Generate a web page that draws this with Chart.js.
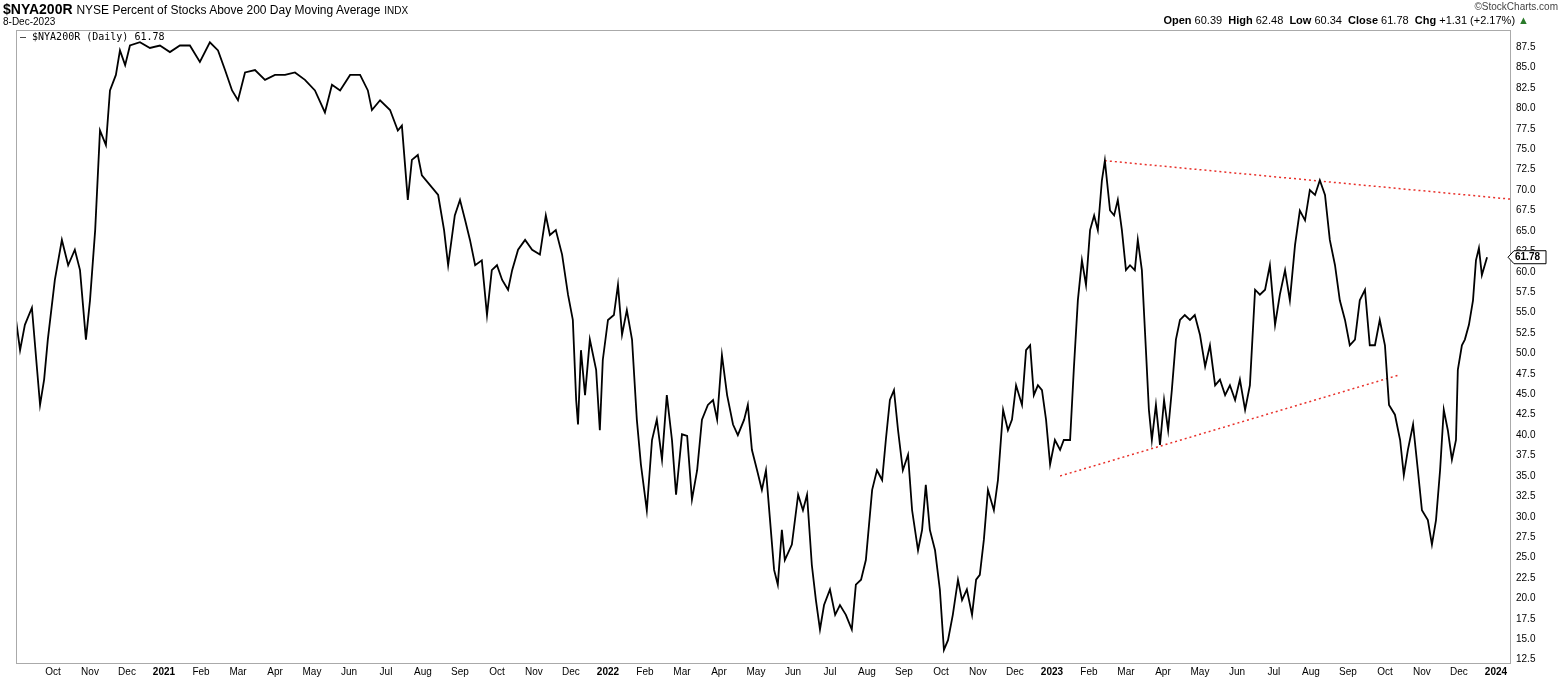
<!DOCTYPE html>
<html>
<head>
<meta charset="utf-8">
<script src="https://cdn.jsdelivr.net/npm/chart.js@4"></script>
<style>
  body { margin: 0; background: #fff; font-family: "Liberation Sans", Arial, sans-serif; }
  #wrap { position: relative; width: 1565px; height: 681px; }
  canvas { position: absolute; left: 0; top: 0; }
  .t { position: absolute; white-space: nowrap; color: #000; }
</style>
</head>
<body>
<div id="wrap">
  <canvas id="grafica" width="1565" height="681"></canvas>
  <div class="t" style="left:3px;top:1px;font-size:14px"><b>$NYA200R</b> <span style="font-size:12px">NYSE Percent of Stocks Above 200 Day Moving Average</span> <span style="font-size:10px">INDX</span></div>
  <div class="t" style="left:3px;top:16px;font-size:10px">8-Dec-2023</div>
  <div class="t" style="left:20px;top:31px;font-size:10px;font-family:'DejaVu Sans Mono',monospace">&#8212; $NYA200R (Daily) 61.78</div>
  <div class="t" style="right:7px;top:1px;font-size:10px;color:#444">&#169;StockCharts.com</div>
  <div class="t" style="right:36px;top:14px;font-size:11px"><b>Open</b> 60.39 &nbsp;<b>High</b> 62.48 &nbsp;<b>Low</b> 60.34 &nbsp;<b>Close</b> 61.78 &nbsp;<b>Chg</b> +1.31 (+2.17%) <span style="color:#2a7a2a">&#9650;</span></div>
</div>
<script>
// Meses transcurridos desde 1-Sep-2020
const meses = [0,.11,.24,.43,.57,.65,.76,.86,1.05,1.24,1.41,1.59,1.73,1.89,2.0,2.14,2.27,2.43,2.54,2.7,2.81,2.95,3.08,3.35,3.62,3.89,4.16,4.43,4.7,4.97,5.24,5.46,5.65,5.84,6.0,6.19,6.46,6.73,7.0,7.27,7.54,7.81,8.08,8.35,8.54,8.76,9.03,9.3,9.51,9.62,9.84,10.11,10.32,10.43,10.59,10.7,10.86,10.97,11.19,11.41,11.57,11.68,11.86,12.0,12.14,12.27,12.41,12.59,12.73,12.86,13.0,13.14,13.3,13.41,13.57,13.76,13.95,14.16,14.32,14.43,14.59,14.76,14.92,15.05,15.14,15.19,15.27,15.38,15.51,15.68,15.78,15.86,16.0,16.16,16.27,16.38,16.51,16.65,16.78,16.89,17.05,17.19,17.32,17.46,17.59,17.73,17.84,18.0,18.14,18.27,18.41,18.54,18.7,18.84,18.95,19.08,19.22,19.38,19.51,19.68,19.78,19.89,20.03,20.16,20.27,20.38,20.49,20.59,20.7,20.78,20.97,21.14,21.27,21.38,21.51,21.62,21.73,21.84,22.0,22.14,22.27,22.43,22.59,22.7,22.84,22.97,23.14,23.27,23.41,23.51,23.62,23.73,23.84,23.97,24.11,24.22,24.38,24.49,24.59,24.7,24.84,24.97,25.08,25.19,25.32,25.46,25.57,25.7,25.84,25.95,26.05,26.16,26.27,26.43,26.54,26.68,26.81,26.92,27.03,27.19,27.3,27.41,27.51,27.62,27.73,27.84,27.95,28.08,28.22,28.32,28.49,28.59,28.7,28.81,28.92,29.03,29.14,29.24,29.35,29.43,29.57,29.68,29.78,29.89,30.0,30.11,30.24,30.32,30.43,30.54,30.62,30.7,30.81,30.92,31.03,31.14,31.24,31.35,31.46,31.59,31.73,31.86,32.0,32.14,32.27,32.41,32.54,32.68,32.81,32.95,33.08,33.22,33.35,33.49,33.62,33.76,33.89,34.03,34.16,34.3,34.43,34.57,34.7,34.84,34.97,35.11,35.24,35.38,35.51,35.65,35.78,35.92,36.05,36.19,36.32,36.46,36.59,36.73,36.86,37.0,37.11,37.27,37.41,37.51,37.62,37.76,37.89,38.0,38.16,38.27,38.38,38.49,38.59,38.7,38.81,38.92,38.97,39.08,39.16,39.27,39.38,39.46,39.54,39.62,39.76];
const porcentaje = [54.1,50.4,53.5,55.6,48,43.7,46.8,51.7,59,63.9,60.8,62.7,60.2,51.7,56.5,65.1,77.3,75.5,82.2,84.1,87.1,85.3,87.7,88.1,87.4,87.7,86.9,87.7,87.7,85.7,88.1,87.1,84.7,82.2,81,84.4,84.7,83.5,84.1,84.1,84.4,83.5,82.2,79.5,82.9,82.2,84.1,84.1,82.2,79.8,81,79.8,77.3,77.9,68.8,73.7,74.3,71.8,70.6,69.4,65.1,60.8,66.9,68.8,66.3,63.9,60.8,61.4,54.7,60.2,60.8,59,57.8,60.2,62.7,63.9,62.7,62.1,66.9,64.5,65.1,62.1,57.2,54.1,44.3,41.3,50.4,44.9,51.7,48,40.6,49.2,54.1,54.7,58.4,52.3,55.3,51.7,41.9,36.4,30.8,39.4,41.9,37,44.9,39.4,32.7,40.1,39.9,32.1,35.7,41.9,43.7,44.3,41.9,49.8,44.9,41.3,40,41.9,43.7,38.2,35.7,33.3,35.7,29.6,23.5,21.7,28.4,24.7,26.6,32.7,30.8,32.7,24.1,19.8,16.2,19.2,21.1,18,19.2,18,16.2,21.7,22.3,24.7,33.3,35.7,34.5,39.4,44.3,45.5,40.6,35.7,37.6,30.8,25.9,28.4,33.9,28.4,25.9,21.1,13.7,14.9,18,22.3,19.8,21.1,18,22.3,22.9,27.2,33.3,30.8,34.5,43.1,40.6,41.9,46.1,43.7,50.4,51,44.9,46.1,45.5,41.9,36.4,39.4,38.2,39.4,39.4,48,56.5,61.4,58.4,65.1,66.9,65.1,71.2,73.6,67.5,66.9,68.8,65.1,60.2,60.8,60.2,63.9,60.2,50.4,43.1,39.4,43.7,38.8,44.3,40.6,45.5,51.7,54.1,54.7,54.1,54.7,52.3,48.4,51,46.1,46.8,44.9,46.1,44.3,46.8,43.1,46.1,57.8,57.2,57.8,60.8,53.5,57.2,60.2,56.5,63.3,67.5,66.3,70,69.4,71.2,69.4,63.9,60.8,56.5,54.1,51,51.7,56.5,57.8,51,51,54.1,51,43.7,42.5,39.4,35.1,38.2,41.3,35.7,30.8,29.6,26.6,29.6,35.7,43.1,40.6,37,39.4,48,51,51.7,53.5,56.5,61.4,62.9,59.6,61.78];

// Líneas de tendencia (punteadas rojas)
const tendenciaSup = [{x: 29.43, y: 73.6}, {x: 40.38, y: 68.9}];
const tendenciaInf = [{x: 28.22, y: 35.0}, {x: 37.41, y: 47.4}];

const valoresY = [12.5,15,17.5,20,22.5,25,27.5,30,32.5,35,37.5,40,42.5,45,47.5,50,52.5,55,57.5,60,62.5,65,67.5,70,72.5,75,77.5,80,82.5,85,87.5];
const ultimo = 61.78;

function etiquetaMes(m) {
  const idx = (m + 8) % 12; // 0 = Jan
  if (idx === 0) return String(2020 + Math.floor((m + 8) / 12));
  return ['Jan','Feb','Mar','Apr','May','Jun','Jul','Aug','Sep','Oct','Nov','Dec'][idx];
}

const puntos = meses.map((m, i) => ({x: m, y: porcentaje[i]}));

// Plugin: marco del área y caja del último valor
const cajaUltimo = {
  id: 'cajaUltimo',
  afterDraw(chart) {
    const ctx = chart.ctx;
    const a = chart.chartArea;
    ctx.save();
    ctx.strokeStyle = '#aaa';
    ctx.lineWidth = 1;
    ctx.strokeRect(a.left + 0.5, a.top + 0.5, a.right - a.left, a.bottom - a.top);
    const y = chart.scales.y.getPixelForValue(ultimo);
    const x = a.right + 2;
    ctx.fillStyle = '#fff';
    ctx.strokeStyle = '#000';
    ctx.beginPath();
    ctx.moveTo(x - 4, y);
    ctx.lineTo(x + 2, y - 6.5);
    ctx.lineTo(x + 34, y - 6.5);
    ctx.lineTo(x + 34, y + 6.5);
    ctx.lineTo(x + 2, y + 6.5);
    ctx.closePath();
    ctx.fill();
    ctx.stroke();
    ctx.fillStyle = '#000';
    ctx.font = 'bold 10px "Liberation Sans", Arial';
    ctx.textBaseline = 'middle';
    ctx.fillText(ultimo.toFixed(2), x + 3, y + 0.5);
    ctx.restore();
  }
};

const ctx = document.getElementById('grafica').getContext('2d');
new Chart(ctx, {
  type: 'scatter',
  data: {
    datasets: [
      {
        data: puntos,
        showLine: true,
        borderColor: '#000',
        borderWidth: 1.8,
        pointRadius: 0,
        tension: 0
      },
      {
        data: tendenciaSup,
        showLine: true,
        borderColor: '#e8302a',
        borderWidth: 1.5,
        borderDash: [2, 3],
        pointRadius: 0
      },
      {
        data: tendenciaInf,
        showLine: true,
        borderColor: '#e8302a',
        borderWidth: 1.5,
        borderDash: [2, 3],
        pointRadius: 0
      }
    ]
  },
  options: {
    responsive: false,
    animation: false,
    layout: { padding: { top: 30, left: 16, right: 0, bottom: 0 } },
    plugins: { legend: { display: false }, tooltip: { enabled: false } },
    scales: {
      x: {
        type: 'linear',
        min: 0,
        max: 40.38,
        border: { color: '#aaa' },
        grid: { display: false },
        afterBuildTicks(axis) {
          const t = [];
          for (let m = 1; m <= 40; m++) t.push({value: m});
          axis.ticks = t;
        },
        afterFit(axis) { axis.height = 18; },
        ticks: {
          autoSkip: false,
          maxRotation: 0,
          padding: -5,
          color: '#000',
          font: (c) => ({ family: '"Liberation Sans", Arial', size: 10, weight: (c.tick && (c.tick.value + 8) % 12 === 0) ? 'bold' : 'normal' }),
          callback: (v) => etiquetaMes(v)
        }
      },
      y: {
        position: 'right',
        min: 12.1,
        max: 89.6,
        border: { color: '#aaa' },
        grid: { display: false },
        afterBuildTicks(axis) {
          axis.ticks = valoresY.map(v => ({value: v}));
        },
        afterFit(axis) { axis.width = 55; },
        ticks: {
          color: '#000',
          padding: -2,
          font: { family: '"Liberation Sans", Arial', size: 10 },
          callback: (v) => v.toFixed(1)
        }
      }
    }
  },
  plugins: [cajaUltimo]
});
</script>
</body>
</html>
